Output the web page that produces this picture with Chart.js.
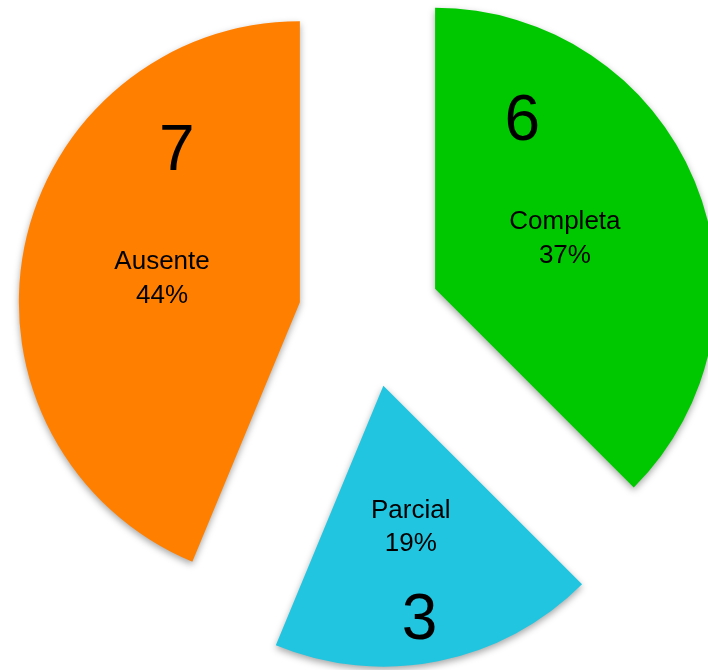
<!DOCTYPE html>
<html>
<head>
<meta charset="utf-8">
<script src="https://cdn.jsdelivr.net/npm/chart.js@4/dist/chart.umd.min.js"></script>
<style>
  html, body { margin: 0; padding: 0; background: #fff; }
  canvas { display: block; }
</style>
</head>
<body>
<canvas id="pieChart" width="708" height="670"></canvas>
<script>
// data
const categories = ["Completa", "Parcial", "Ausente"];
const counts = [6, 3, 7];
const percentLabels = ["37%", "19%", "44%"];
const sliceColors = ["#00C800", "#21C5E0", "#FF7F00"];

// look & placement
const PIE_RADIUS = 281;
const EXPLODE = 71;          // how far each slice is pulled out
const NAME_RADIUS = 0.5;     // category label, fraction of radius on bisector
const LINE_GAP = 33.5;
const TEXT_DY = 4;           // canvas "middle" sits a bit high vs. the glyphs
// big count labels: [fraction through slice angle, fraction of radius]
const countPos = [[0.20, 0.684], [0.534, 0.83], [0.756, 0.704]];
const FONT = "'Liberation Sans', Arial, sans-serif";

// pull slices out along their bisector (Chart.js offset narrows slices, so do it here)
const explodePlugin = {
  id: "explode",
  beforeDatasetsDraw(chart) {
    const area = chart.chartArea;
    const cx = (area.left + area.right) / 2;
    const cy = (area.top + area.bottom) / 2;
    chart.getDatasetMeta(0).data.forEach(arc => {
      const mid = (arc.startAngle + arc.endAngle) / 2;
      arc.x = cx + Math.cos(mid) * EXPLODE;
      arc.y = cy + Math.sin(mid) * EXPLODE;
    });
    // soft drop shadow under the slices
    const ctx = chart.ctx;
    ctx.save();
    ctx.shadowColor = "rgba(0,0,0,0.35)";
    ctx.shadowBlur = 7;
    ctx.shadowOffsetX = 0;
    ctx.shadowOffsetY = 3;
  },
  afterDatasetsDraw(chart) {
    const ctx = chart.ctx;
    ctx.restore();

    const arcs = chart.getDatasetMeta(0).data;
    ctx.save();
    ctx.fillStyle = "#000";
    ctx.textAlign = "center";
    ctx.textBaseline = "middle";
    arcs.forEach((arc, i) => {
      const mid = (arc.startAngle + arc.endAngle) / 2;
      const r = arc.outerRadius * NAME_RADIUS;
      const nx = arc.x + Math.cos(mid) * r;
      const ny = arc.y + Math.sin(mid) * r + TEXT_DY;
      ctx.font = "26px " + FONT;
      ctx.fillText(categories[i], nx, ny - LINE_GAP / 2);
      ctx.fillText(percentLabels[i], nx, ny + LINE_GAP / 2);

      // big number
      const [af, rf] = countPos[i];
      const a = arc.startAngle + (arc.endAngle - arc.startAngle) * af;
      ctx.font = "64px " + FONT;
      ctx.fillText(String(counts[i]),
        arc.x + Math.cos(a) * arc.outerRadius * rf,
        arc.y + Math.sin(a) * arc.outerRadius * rf + TEXT_DY + 1);
    });
    ctx.restore();
  }
};

const ctx = document.getElementById("pieChart").getContext("2d");
new Chart(ctx, {
  type: "pie",
  data: {
    labels: categories,
    datasets: [{
      data: counts,
      backgroundColor: sliceColors,
      borderWidth: 0,
      hoverOffset: 0,
      clip: false
    }]
  },
  options: {
    responsive: false,
    animation: false,
    events: [],
    radius: PIE_RADIUS,
    layout: { padding: { left: 31, right: 0, top: 0, bottom: 38 } },
    plugins: {
      legend: { display: false },
      tooltip: { enabled: false }
    }
  },
  plugins: [explodePlugin]
});
</script>
</body>
</html>
